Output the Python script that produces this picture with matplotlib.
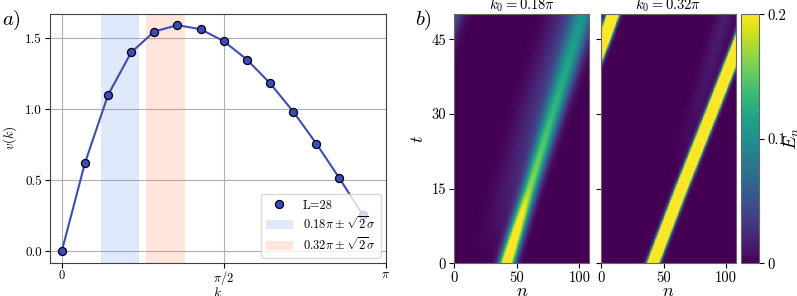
import numpy as np
import matplotlib
matplotlib.use('Agg')
import matplotlib.pyplot as plt

plt.rcParams['font.family'] = ['cmr10', 'DejaVu Serif']
plt.rcParams['mathtext.fontset'] = 'cm'
plt.rcParams['axes.formatter.use_mathtext'] = True
plt.rcParams['font.size'] = 9.5
plt.rcParams['xtick.major.pad'] = 2.0
plt.rcParams['ytick.major.pad'] = 2.5

# ---- panel a) data: group velocity for L=28 ----
k_over_pi = np.arange(14) * 2 / 28
v_k = [0.0, 0.62, 1.10, 1.40, 1.547, 1.592, 1.563, 1.479, 1.35, 1.183, 0.984, 0.758, 0.514, 0.258]
k0_values = [0.18, 0.32]
band_halfwidth = 0.06  # sqrt(2)*sigma, in units of pi
band_colors = ['cornflowerblue', 'coral']
band_labels = [r'$0.18\pi \pm \sqrt{2}\sigma$', r'$0.32\pi \pm \sqrt{2}\sigma$']

# ---- panel b) data: packet track ----
n_sites = 108
t_max = 50
t_keys = [0, 15, 30, 45, 50]
# k0 = 0.18 pi
center_18 = [42.0, 60.3, 78.6, 97.0, 103.0]
peak_18 = [0.29, 0.16, 0.12, 0.095, 0.09]
sigma_18 = [4.0, 4.3, 5.2, 6.3, 6.6]
halo_18 = [0.0, 0.018, 0.03, 0.03, 0.03]
# k0 = 0.32 pi
center_32 = [41.5, 64.0, 87.5, 110.5, 117.5]
peak_32 = [1.3, 1.3, 1.3, 1.3, 1.3]
sigma_32 = [2.4, 2.4, 2.4, 2.4, 2.4]
ghost_32 = [0.0, 0.0, 0.008, 0.015, 0.015]
ghost_center_32 = [42.0, 58.0, 75.0, 93.0, 99.0]

blue = '#3b4cc0'


def packet_field(centers, peaks, sigmas, extra_amp, extra_center, extra_sigma):
    n = np.arange(n_sites) + 0.5
    t = np.linspace(0, t_max, 251)
    c = np.interp(t, t_keys, centers)[:, None]
    a = np.interp(t, t_keys, peaks)[:, None]
    s = np.interp(t, t_keys, sigmas)[:, None]
    d = (n[None, :] - c + n_sites / 2) % n_sites - n_sites / 2
    field = a * np.exp(-d ** 2 / (2 * s ** 2))
    ea = np.interp(t, t_keys, extra_amp)[:, None]
    ec = np.interp(t, t_keys, extra_center)[:, None]
    d2 = (n[None, :] - ec + n_sites / 2) % n_sites - n_sites / 2
    field = field + ea * np.exp(-d2 ** 2 / (2 * extra_sigma ** 2))
    return field


fig = plt.figure(figsize=(7.97, 2.96), dpi=100)

# ---- panel a) ----
ax = fig.add_axes([0.0627, 0.1125, 0.4213, 0.8405])
k = np.array(k_over_pi) * np.pi
for k0, col, lab in zip(k0_values, band_colors, band_labels):
    ax.axvspan((k0 - band_halfwidth) * np.pi, (k0 + band_halfwidth) * np.pi,
               color=col, alpha=0.2, lw=0, label=lab)
ax.plot(k, v_k, '-', color=blue, lw=1.5, zorder=2)
ax.plot(k, v_k, 'o', color=blue, mec='black', mew=0.9, ms=5.8, label='L=28', zorder=3)
ax.set_xlim(-0.114, np.pi)
ax.set_ylim(-0.08, 1.671)
ax.set_xticks([0, np.pi / 2, np.pi])
ax.set_xticklabels(['$0$', r'$\pi/2$', r'$\pi$'], fontsize=9)
ax.tick_params(axis='x', pad=1)
ax.set_yticks([0, 0.5, 1.0, 1.5])
ax.set_yticklabels(['0.0', '0.5', '1.0', '1.5'])
ax.grid(True, color='#b0b0b0', lw=0.8)
ax.set_axisbelow(True)
ax.set_xlabel('$k$', labelpad=-0.5)
ax.set_ylabel('$v(k)$', labelpad=4)
for sp in ax.spines.values():
    sp.set_color('#404040')
handles, labels = ax.get_legend_handles_labels()
order = [2, 0, 1]
ax.legend([handles[i] for i in order], [labels[i] for i in order],
          loc='lower right', fontsize=9, framealpha=0.8, edgecolor='#d0d0d0',
          labelspacing=0.3, handlelength=2.2, borderaxespad=0.4)
fig.text(0.002, 0.915, '$a)$', fontsize=15)

# ---- panel b) ----
fields = [packet_field(center_18, peak_18, sigma_18, halo_18,
                       np.array(center_18) - 12, 10.0),
          packet_field(center_32, peak_32, sigma_32, ghost_32, ghost_center_32, 5.0)]
titles = [r'$k_0 = 0.18\pi$', r'$k_0 = 0.32\pi$']
lefts = [0.570, 0.7541]
for i, (f, title, left) in enumerate(zip(fields, titles, lefts)):
    axb = fig.add_axes([left, 0.1105, 0.1694, 0.841])
    im = axb.imshow(f, origin='lower', aspect='auto', cmap='viridis',
                    vmin=0, vmax=0.2, extent=[0, n_sites, 0, t_max])
    axb.set_title(title, fontsize=10.5, pad=0.5)
    axb.set_xticks([0, 50, 100])
    axb.set_xticklabels(['0', '50', '100'], fontsize=10.5)
    axb.set_yticks([0, 15, 30, 45])
    if i == 0:
        axb.set_yticklabels(['0', '15', '30', '45'], fontsize=10.5)
        axb.set_ylabel('$t$', fontsize=13, labelpad=4)
    else:
        axb.set_yticklabels([])
    axb.set_xlabel('$n$', fontsize=13, labelpad=-1)
    for sp in axb.spines.values():
        sp.set_color('#666666')

cax = fig.add_axes([0.9294, 0.1105, 0.0233, 0.841])
cb = fig.colorbar(im, cax=cax, ticks=[0, 0.1, 0.2])
cb.ax.set_yticklabels(['0', '0.1', '0.2'], fontsize=10.5)
cb.set_label('$E_n$', fontsize=13, labelpad=-2.5)
cb.outline.set_edgecolor('#666666')
fig.text(0.521, 0.915, '$b)$', fontsize=15)

fig.savefig('out.png', dpi=100)
